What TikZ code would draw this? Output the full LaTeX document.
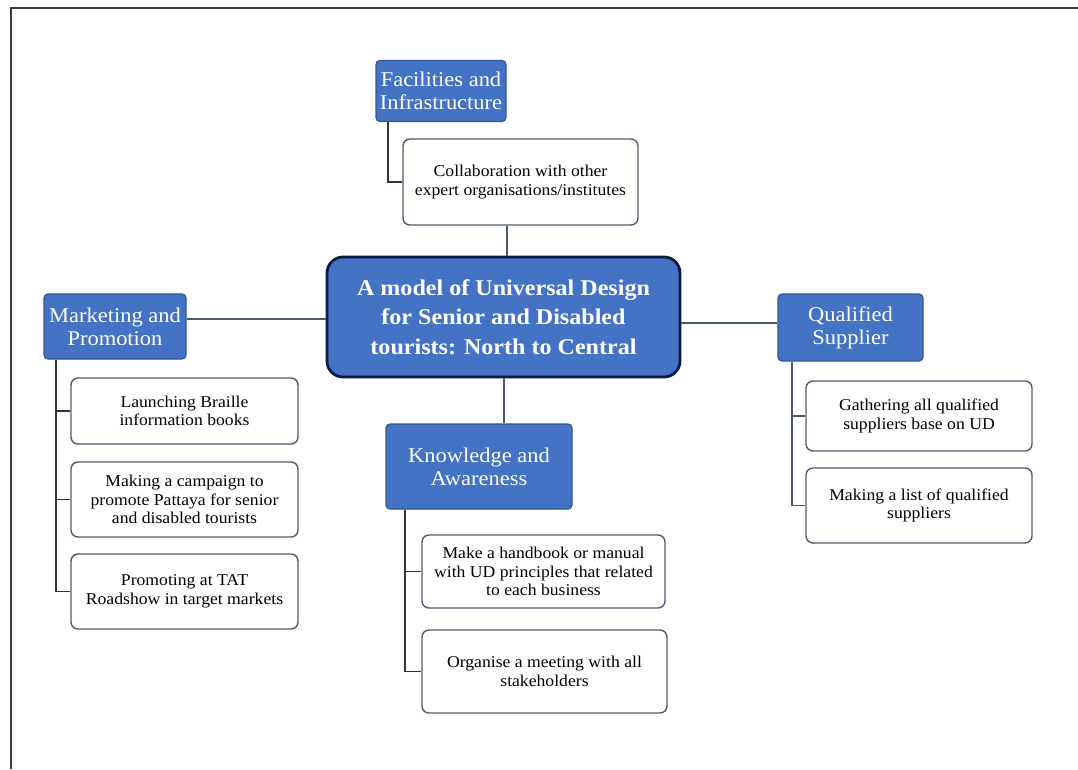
\documentclass[tikz,border=0pt]{standalone}
\usepackage{fontspec}
\setmainfont{Liberation Serif}[FakeStretch=1.07]
\definecolor{ublue}{HTML}{4472C4}
\definecolor{ubord}{HTML}{2F5597}
\definecolor{cbord}{HTML}{0B1A45}
\definecolor{sbord}{HTML}{4F5B73}
\definecolor{mline}{HTML}{4A5870}
\definecolor{tline}{HTML}{2E3444}
\definecolor{frame}{HTML}{3A3A3A}
\tikzset{
  topic/.style={draw=ubord, line width=1.2pt, fill=ublue, rounded corners=4pt, text=white,
    align=center, inner sep=1pt, font=\fontsize{21}{23}\selectfont},
  item/.style={draw=sbord, line width=1.4pt, fill=white, rounded corners=7pt, text=black,
    align=center, inner sep=1pt, font=\fontsize{16.5}{18.5}\selectfont},
  core/.style={draw=cbord, line width=2.8pt, fill=ublue, rounded corners=16pt, text=white,
    align=center, inner sep=2pt, font=\bfseries\fontsize{22.5}{29.5}\selectfont},
  mainline/.style={draw=mline, line width=2pt},
  treeline/.style={draw=tline, line width=1.8pt}
}
\begin{document}
\begin{tikzpicture}[x=1pt,y=-1pt]
\useasboundingbox (0,0) rectangle (1078,769);
\draw[frame, line width=2pt] (11,769) -- (11,8) -- (1078,8);

% central
\node[core, minimum width=353pt, minimum height=120pt] (cen) at (503.5,317)
  {A model of Universal Design\\for Senior and Disabled\\tourists: North to Central};

% Facilities
\node[topic, minimum width=130pt, minimum height=61pt] (fac) at (441,91) {Facilities and\\Infrastructure};
\node[item, minimum width=235pt, minimum height=86pt] (col) at (520.5,182)
  {Collaboration with other\\expert organisations/institutes};

% Marketing
\node[topic, minimum width=142pt, minimum height=65pt] (mkt) at (115,326.5) {Marketing and\\Promotion};
\node[item, minimum width=227pt, minimum height=66pt] (br) at (184.5,411) {Launching Braille\\information books};
\node[item, minimum width=227pt, minimum height=75pt] (cam) at (184.5,499.5)
  {Making a campaign to\\promote Pattaya for senior\\and disabled tourists};
\node[item, minimum width=227pt, minimum height=75pt] (pro) at (184.5,591.5)
  {Promoting at TAT\\Roadshow in target markets};

% Knowledge
\node[topic, minimum width=186pt, minimum height=85pt] (kno) at (479,466.5) {Knowledge and\\Awareness};
\node[item, minimum width=243pt, minimum height=73pt] (hb) at (543.5,571.5)
  {Make a handbook or manual\\with UD principles that related\\to each business};
\node[item, minimum width=245pt, minimum height=83pt] (org) at (544.5,671.5)
  {Organise a meeting with all\\stakeholders};

% Qualified
\node[topic, minimum width=145pt, minimum height=67pt] (qs) at (850.5,327.5) {Qualified\\Supplier};
\node[item, minimum width=226pt, minimum height=70pt] (ga) at (919,416)
  {Gathering all qualified\\suppliers base on UD};
\node[item, minimum width=226pt, minimum height=75pt] (ml) at (919,505.5)
  {Making a list of qualified\\suppliers};

% coordinates for connector lines
\coordinate (xf) at (388,0);
\coordinate (xc) at (507,0);
\coordinate (xm) at (56,0);
\coordinate (xk) at (405,0);
\coordinate (xq) at (792,0);
\coordinate (yl) at (0,319);
\coordinate (yr) at (0,323);

% main connectors
\draw[mainline] (col.south -| xc) -- (cen.north -| xc);
\draw[mainline] (cen.south) -- (cen.south |- kno.north);
\draw[mainline] (mkt.east |- yl) -- (cen.west |- yl);
\draw[mainline] (cen.east |- yr) -- (qs.west |- yr);

% subtrees
\draw[treeline] (fac.south -| xf) |- (col.west);
\draw[treeline] (mkt.south -| xm) |- (br.west);
\draw[treeline] (mkt.south -| xm) |- (cam.west);
\draw[treeline] (mkt.south -| xm) |- (pro.west);
\draw[treeline] (kno.south -| xk) |- (hb.west);
\draw[treeline] (kno.south -| xk) |- (org.west);
\draw[treeline, draw=mline] (qs.south -| xq) |- (ga.west);
\draw[treeline, draw=mline] (qs.south -| xq) |- (ml.west);
\end{tikzpicture}
\end{document}
